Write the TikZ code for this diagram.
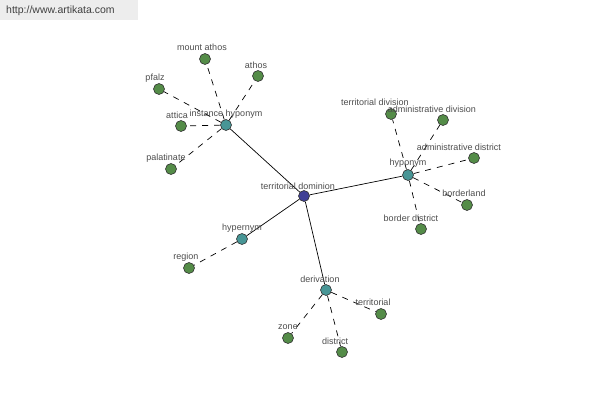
\documentclass[tikz,border=0pt]{standalone}
\usepackage{fontspec}
\setmainfont{Liberation Sans}
\begin{document}
\begin{tikzpicture}[x=1pt,y=-1pt,
  leaf/.style={circle,draw=black!80,line width=0.6pt,fill=leafgreen,minimum size=11pt,inner sep=0pt},
  hub/.style={circle,draw=black!80,line width=0.6pt,fill=hubteal,minimum size=11pt,inner sep=0pt},
  root/.style={circle,draw=black!80,line width=0.6pt,fill=rootblue,minimum size=11pt,inner sep=0pt},
  lbl/.style={font=\fontsize{9}{10}\selectfont,text=black!70,inner sep=0pt},
  solidedge/.style={draw=black,line width=0.7pt},
  dashedge/.style={draw=black,line width=0.7pt,dash pattern=on 6pt off 6pt}]
\definecolor{leafgreen}{RGB}{84,140,72}
\definecolor{hubteal}{RGB}{72,150,150}
\definecolor{rootblue}{RGB}{64,64,150}
\useasboundingbox (0,0) rectangle (600,400);
\fill[black!7] (0,0) rectangle (138,20);
\node[font=\fontsize{10.5}{12}\selectfont,text=black!75,anchor=west,inner sep=0pt] (wm) at (6,11) {http://www.artikata.com};
% hubs
\node[root] (td) at (304,196) {};
\node[hub] (ih) at (226,125) {};
\node[hub] (hypo) at (408,175) {};
\node[hub] (hyper) at (242,239) {};
\node[hub] (der) at (326,290) {};
% leaves
\node[leaf] (ma) at (205,59) {};
\node[leaf] (at) at (258,76) {};
\node[leaf] (pf) at (159,89) {};
\node[leaf] (atc) at (181,126) {};
\node[leaf] (pal) at (171,169) {};
\node[leaf] (tdv) at (391,114) {};
\node[leaf] (adv) at (443,120) {};
\node[leaf] (ads) at (474,158) {};
\node[leaf] (bl) at (467,205) {};
\node[leaf] (bd) at (421,229) {};
\node[leaf] (reg) at (189,268) {};
\node[leaf] (ter) at (381,314) {};
\node[leaf] (zn) at (288,338) {};
\node[leaf] (dis) at (342,352) {};
% edges
\path[solidedge] (td) -- (ih);
\path[solidedge] (td) -- (hypo);
\path[solidedge] (td) -- (hyper);
\path[solidedge] (td) -- (der);
\foreach \l in {ma,at,pf,atc,pal} \path[dashedge] (ih) -- (\l);
\foreach \l in {tdv,adv,ads,bl,bd} \path[dashedge] (hypo) -- (\l);
\path[dashedge] (hyper) -- (reg);
\foreach \l in {ter,zn,dis} \path[dashedge] (der) -- (\l);
% labels
\node[lbl] (lta) at (298,186) {territorial dominion};
\node[lbl] (ltb) at (226,114) {instance hyponym};
\node[lbl] (ltc) at (408,163) {hyponym};
\node[lbl] (ltd) at (242,228) {hypernym};
\node[lbl] (lte) at (320,279) {derivation};
\node[lbl] (l1) at (202,47) {mount athos};
\node[lbl] (l2) at (256,65) {athos};
\node[lbl] (l3) at (155,78) {pfalz};
\node[lbl] (l4) at (177,115) {attica};
\node[lbl] (l5) at (166,158) {palatinate};
\node[lbl] (l6) at (375,102) {territorial division};
\node[lbl] (l7) at (432,109) {administrative division};
\node[lbl] (l8) at (459,147) {administrative district};
\node[lbl] (l9) at (464,193) {borderland};
\node[lbl] (l10) at (411,218) {border district};
\node[lbl] (l11) at (186,257) {region};
\node[lbl] (l12) at (373,302) {territorial};
\node[lbl] (l13) at (288,327) {zone};
\node[lbl] (l14) at (335,341) {district};
\end{tikzpicture}
\end{document}
